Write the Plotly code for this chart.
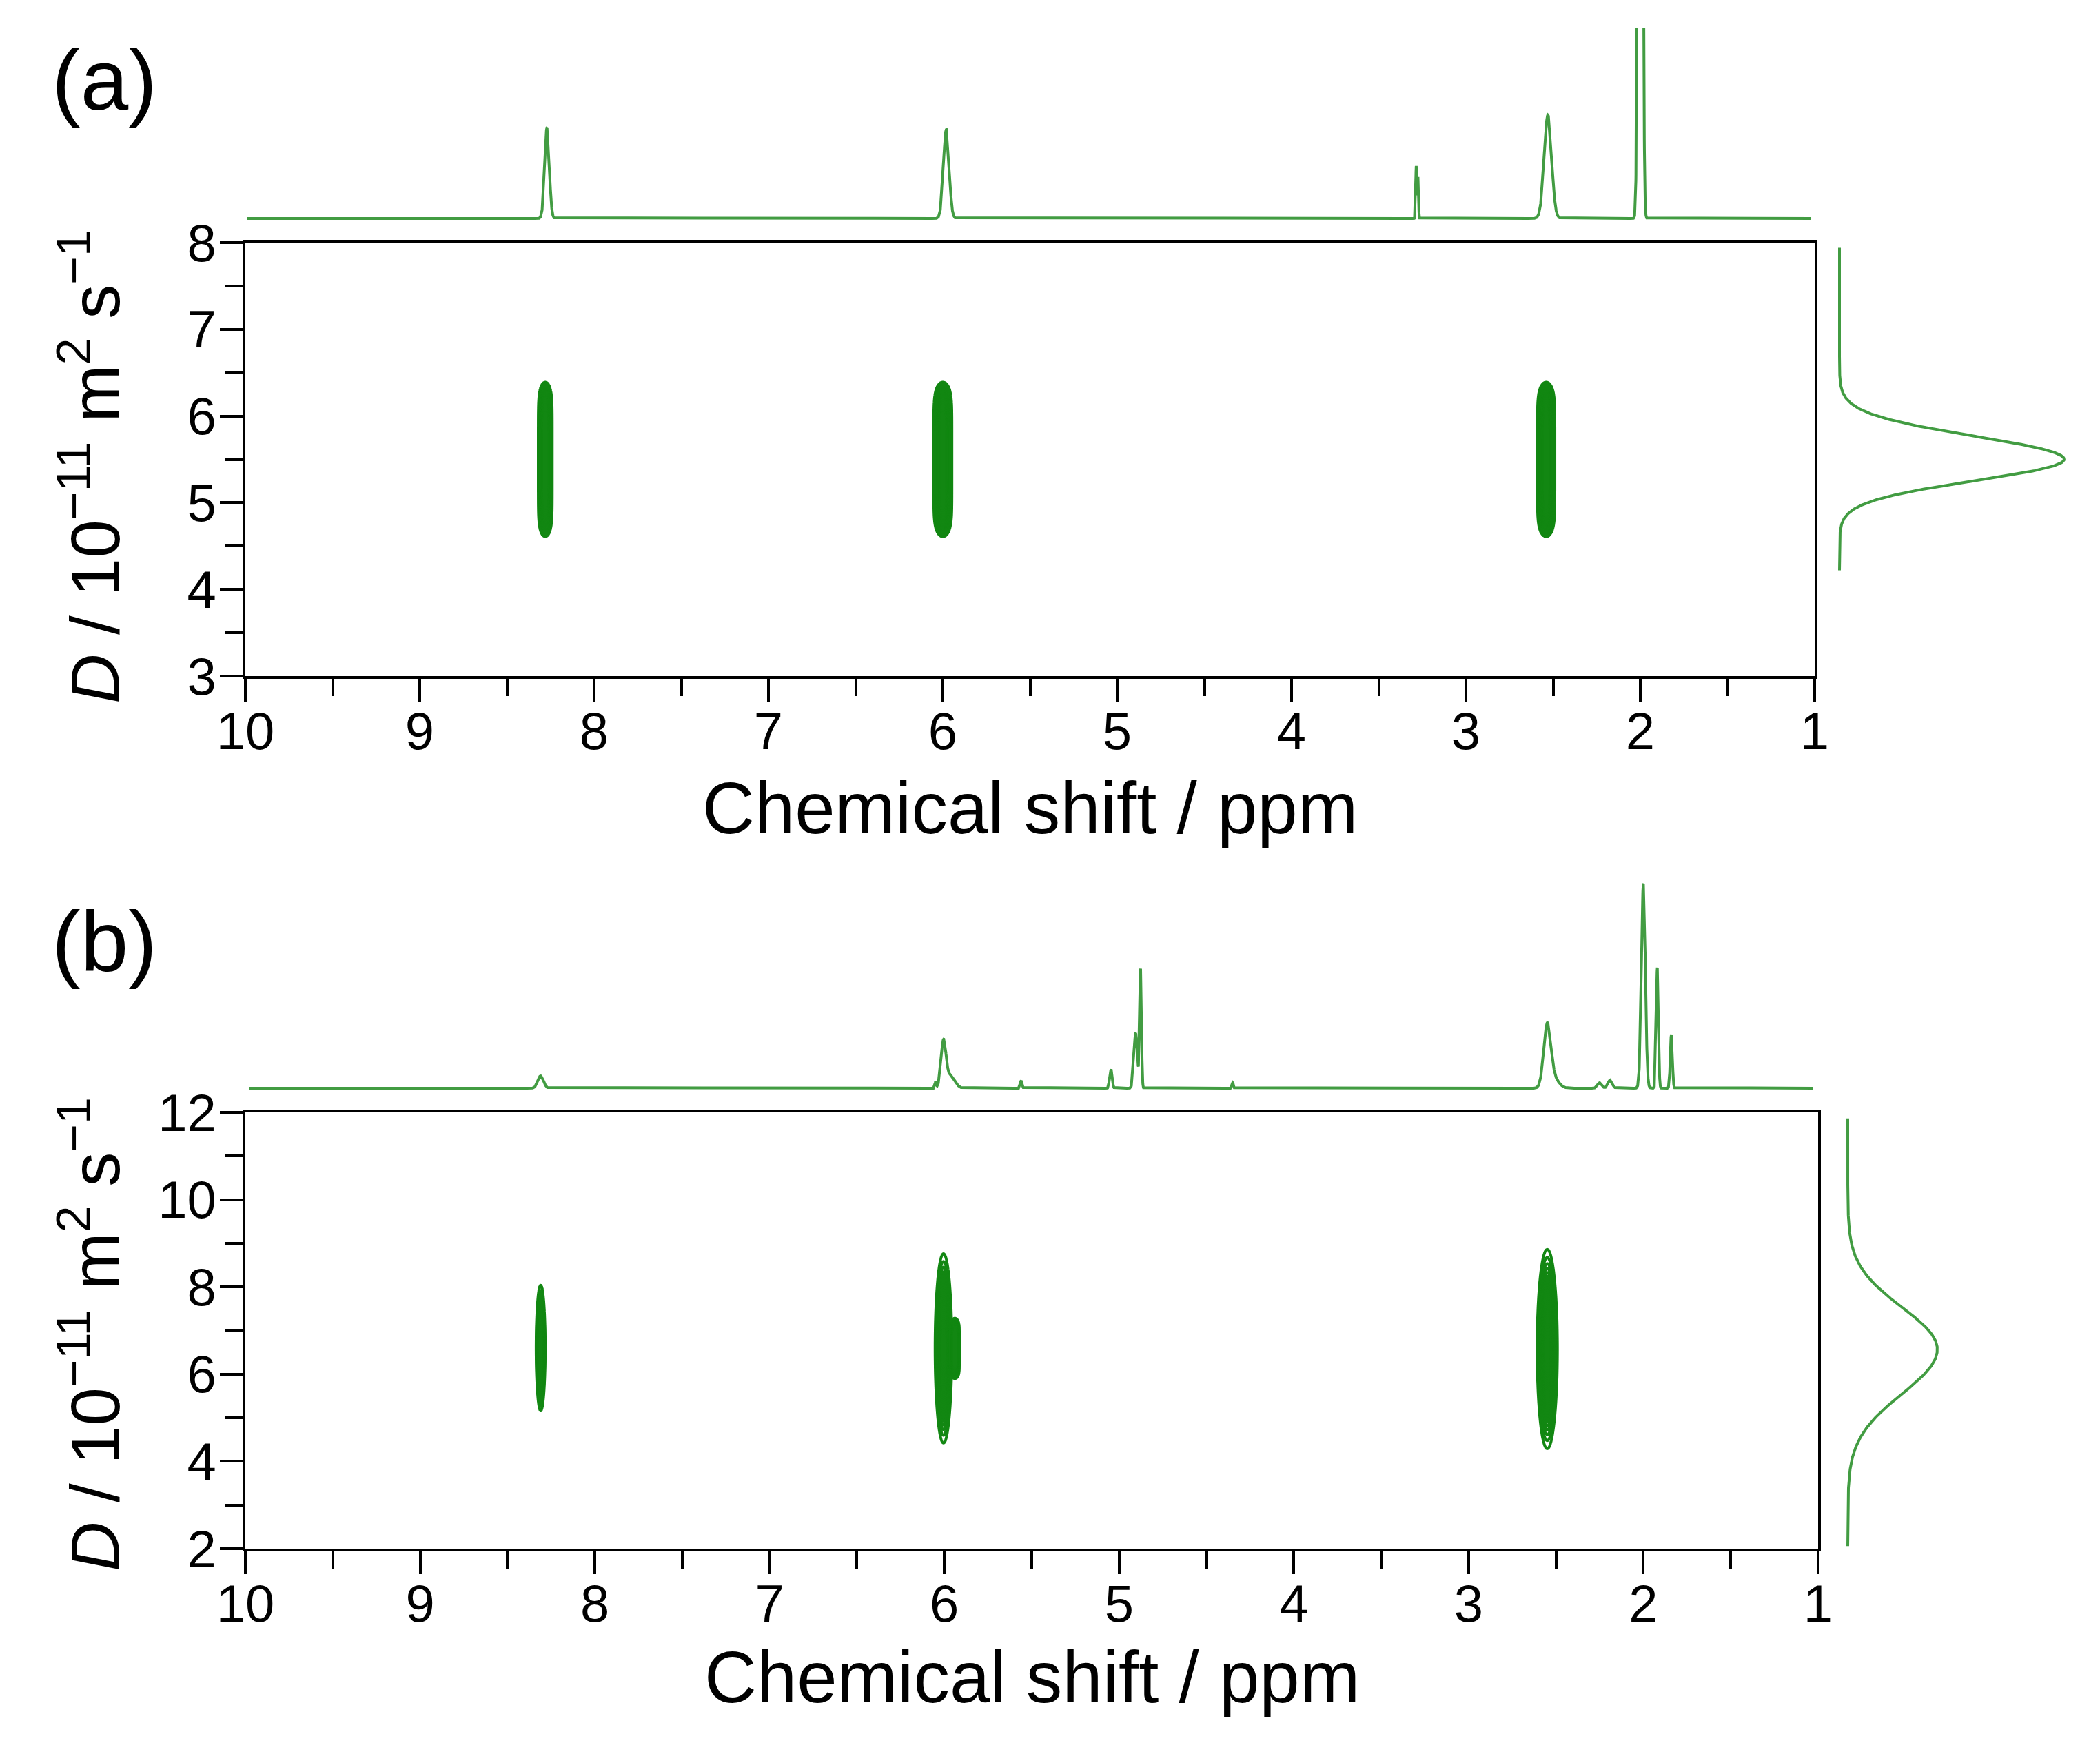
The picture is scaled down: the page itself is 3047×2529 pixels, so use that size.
import numpy as np
import plotly.graph_objects as go

W, H = 3047, 2529
OFF = 8  # page body offset of the plot div
FONT = "Liberation Sans, Arial, Helvetica, sans-serif"
LINE_GREEN = "rgb(66,156,66)"
SPOT_GREEN = "rgb(18,135,18)"

# ---------------- data ----------------
ppm_ticks = [10, 9, 8, 7, 6, 5, 4, 3, 2, 1]
a_D_ticks = [3, 4, 5, 6, 7, 8]
b_D_ticks = [2, 4, 6, 8, 10, 12]

# (a) 1H spectrum peaks: position (ppm), height (a.u.), width (ppm)
a_ppm = [8.27, 5.98, 3.285, 3.275, 2.53, 2.00]
a_height = [132, 129, 76, 60, 150, 3000]
a_width = [0.013, 0.016, 0.003, 0.003, 0.021, 0.009]
a_spec_limits = [1.02, 9.99]

# (b) 1H spectrum peaks
b_ppm = [8.31, 6.05, 6.005, 5.965, 5.56, 5.055, 5.045, 4.905, 4.877, 4.35,
         2.55, 2.515, 2.25, 2.19, 2.00, 1.92, 1.84]
b_height = [18, 9, 66, 18, 11, 8, 27, 80, 172, 8,
            88, 14, 8, 12, 297, 175, 77]
b_width = [0.016, 0.004, 0.014, 0.025, 0.005, 0.004, 0.006, 0.010, 0.005, 0.004,
           0.020, 0.030, 0.012, 0.012, 0.011, 0.006, 0.006]
b_spec_limits = [1.03, 9.98]

# DOSY cross peaks: ppm, D centre, ppm half-width, D half-range, flat-topped?
a_spot_ppm = [8.28, 6.00, 2.54]
a_spot_D = [5.5, 5.5, 5.5]
a_spot_wppm = [0.040, 0.052, 0.050]
a_spot_wD = [0.89, 0.89, 0.89]
a_spot_flat = [True, True, True]

b_spot_ppm = [8.31, 6.005, 5.94, 2.55]
b_spot_D = [6.60, 6.59, 6.59, 6.575]
b_spot_wppm = [0.026, 0.048, 0.026, 0.058]
b_spot_wD = [1.44, 2.17, 0.69, 2.285]
b_spot_flat = [False, False, True, False]

# diffusion projections: centre, upper width, lower width, D limits
a_proj_center = 5.5
a_proj_sigma = [0.265, 0.245]
a_proj_limits = [4.22, 7.94]
b_proj_center = 6.57
b_proj_sigma = [0.96, 1.02]
b_proj_limits = [2.06, 11.86]


# ---------------- helpers ----------------
def px(x):
    return (x - OFF) / W


def py(y):
    return 1 - (y - OFF) / H


def spectrum(lims, pos, hts, wid):
    x = np.arange(lims[0], lims[1] + 1e-9, 0.0005)
    y = np.zeros_like(x)
    for p, h, s in zip(pos, hts, wid):
        y += h * np.exp(-0.5 * ((x - p) / s) ** 2)
    return x, y


def projection(center, sig, lims):
    d = np.linspace(lims[0], lims[1], 800)
    s = np.where(d >= center, sig[0], sig[1])
    return np.exp(-0.5 * ((d - center) / s) ** 2), d


def spot(xc, dc, hx, hd, flat):
    sx = hx / 2.448
    xs = np.linspace(xc - 2.2 * hx, xc + 2.2 * hx, 81)
    ds = np.linspace(dc - 1.5 * hd, dc + 1.5 * hd, 181)
    X, D = np.meshgrid(xs, ds)
    if flat:
        wd = hd / (np.log(20) ** (1 / 8))
        zd = np.exp(-(((D - dc) / wd) ** 8))
    else:
        sd = hd / 2.448
        zd = np.exp(-0.5 * ((D - dc) / sd) ** 2)
    z = np.exp(-0.5 * ((X - xc) / sx) ** 2) * zd
    return xs, ds, z


fig = go.Figure()


def add_panel(suffix_main, suffix_top, suffix_right, spec, spots, proj):
    sx, sy = spec
    fig.add_trace(go.Scatter(x=sx, y=sy, mode="lines",
                             line=dict(color=LINE_GREEN, width=4),
                             xaxis="x" + suffix_top, yaxis="y" + suffix_top,
                             hoverinfo="skip", showlegend=False))
    for (xs, ds, z) in spots:
        fig.add_trace(go.Contour(x=xs, y=ds, z=z,
                                 contours=dict(coloring="lines", start=0.05, end=0.97, size=0.03),
                                 line=dict(width=4, smoothing=1),
                                 colorscale=[[0, SPOT_GREEN], [1, SPOT_GREEN]],
                                 showscale=False, hoverinfo="skip",
                                 xaxis="x" + suffix_main, yaxis="y" + suffix_main))
    px_, pd_ = proj
    fig.add_trace(go.Scatter(x=px_, y=pd_, mode="lines",
                             line=dict(color=LINE_GREEN, width=4),
                             xaxis="x" + suffix_right, yaxis="y" + suffix_right,
                             hoverinfo="skip", showlegend=False))


a_spots = [spot(*args) for args in zip(a_spot_ppm, a_spot_D, a_spot_wppm, a_spot_wD, a_spot_flat)]
b_spots = [spot(*args) for args in zip(b_spot_ppm, b_spot_D, b_spot_wppm, b_spot_wD, b_spot_flat)]

add_panel("", "2", "3", spectrum(a_spec_limits, a_ppm, a_height, a_width), a_spots,
          projection(a_proj_center, a_proj_sigma, a_proj_limits))
add_panel("4", "5", "6", spectrum(b_spec_limits, b_ppm, b_height, b_width), b_spots,
          projection(b_proj_center, b_proj_sigma, b_proj_limits))

tickfont = dict(family=FONT, size=76, color="black")
common = dict(showgrid=False, zeroline=False, showline=True, linecolor="black", linewidth=4,
              mirror=True, ticks="outside", ticklen=33, tickwidth=4, tickcolor="black",
              tickfont=tickfont, automargin=False)
minor_x = dict(dtick=0.5, ticks="outside", ticklen=25, tickwidth=4, tickcolor="black")
hidden = dict(visible=False, showgrid=False, zeroline=False, automargin=False)

xa_dom = [px(356), px(2633)]
xb_dom = [px(356), px(2638)]
ya_dom = [py(981), py(352)]
yb_dom = [py(2247), py(1614)]

fig.update_layout(
    template="none",
    width=W, height=H, margin=dict(l=0, r=0, t=0, b=0, pad=0, autoexpand=False),
    paper_bgcolor="white", plot_bgcolor="rgba(0,0,0,0)", showlegend=False,
    # panel a
    xaxis=dict(domain=xa_dom, anchor="y", range=[10, 1], tickvals=ppm_ticks,
               minor=minor_x, ticklabelstandoff=-22, **common),
    yaxis=dict(domain=ya_dom, anchor="x", range=[3, 8], tickvals=a_D_ticks,
               minor=dict(dtick=0.5, ticks="outside", ticklen=25, tickwidth=4, tickcolor="black"),
               ticklabelstandoff=-10, **common),
    xaxis2=dict(domain=xa_dom, anchor="y2", range=[10, 1], **hidden),
    yaxis2=dict(domain=[py(330), py(40)], anchor="x2", range=[-13, 277], **hidden),
    xaxis3=dict(domain=[px(2650), px(3020)], anchor="y3", range=[-19 / 326, 351 / 326], **hidden),
    yaxis3=dict(domain=ya_dom, anchor="x3", range=[3, 8], **hidden),
    # panel b
    xaxis4=dict(domain=xb_dom, anchor="y4", range=[10, 1], tickvals=ppm_ticks,
                minor=minor_x, ticklabelstandoff=-22, **common),
    yaxis4=dict(domain=yb_dom, anchor="x4", range=[2, 12], tickvals=b_D_ticks,
                minor=dict(dtick=1, ticks="outside", ticklen=25, tickwidth=4, tickcolor="black"),
                ticklabelstandoff=-10, **common),
    xaxis5=dict(domain=xb_dom, anchor="y5", range=[10, 1], **hidden),
    yaxis5=dict(domain=[py(1590), py(1250)], anchor="x5", range=[-11, 329], **hidden),
    xaxis6=dict(domain=[px(2660), px(3000)], anchor="y6", range=[-21 / 130, 319 / 130], **hidden),
    yaxis6=dict(domain=yb_dom, anchor="x6", range=[2, 12], **hidden),
)

ytitle = "<i>D</i> / 10<sup>−11</sup> m<sup>2</sup> s<sup>−1</sup>"
xtitle = "Chemical shift / ppm"
ann = []
for lab, yc in [("(a)", 116), ("(b)", 1365)]:
    ann.append(dict(text=lab, x=px(73), y=py(yc), xref="paper", yref="paper",
                    xanchor="left", yanchor="middle", showarrow=False,
                    font=dict(family=FONT, size=125, color="black")))
for xc, yc in [(1494, 1172), (1497, 2433)]:
    ann.append(dict(text=xtitle, x=px(xc), y=py(yc), xref="paper", yref="paper",
                    xanchor="center", yanchor="middle", showarrow=False,
                    font=dict(family=FONT, size=105, color="black")))
for yc in [677, 1936]:
    ann.append(dict(text=ytitle, x=px(131), y=py(yc), xref="paper", yref="paper",
                    xanchor="center", yanchor="middle", textangle=-90, showarrow=False,
                    font=dict(family=FONT, size=100, color="black")))
fig.update_layout(annotations=ann)

fig.write_html("out.html")
